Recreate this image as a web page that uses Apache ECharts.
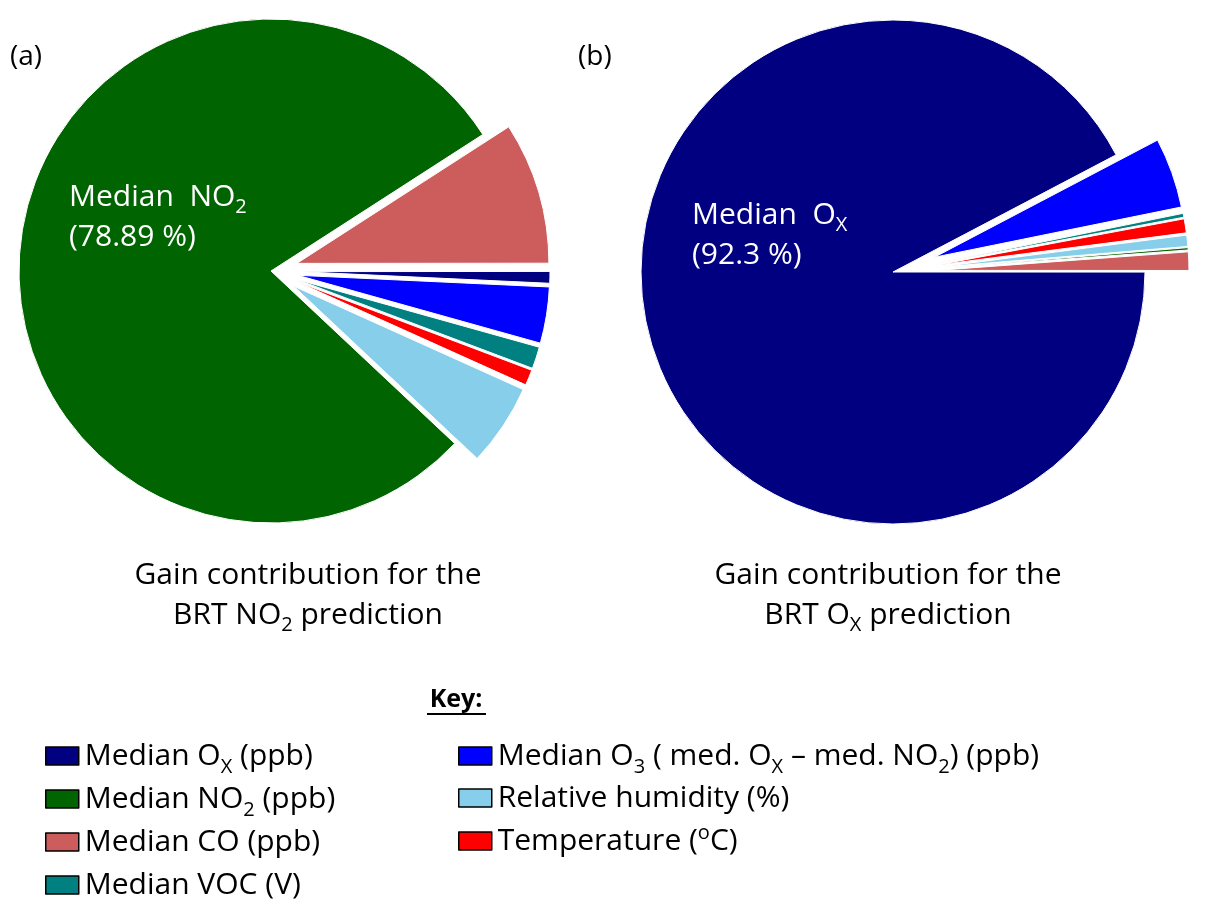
<!DOCTYPE html>
<html>
<head>
<meta charset="utf-8">
<script src="https://cdn.jsdelivr.net/npm/echarts@6/dist/echarts.min.js"></script>
<style>
html,body{margin:0;padding:0;background:#fff;}
#main{width:1207px;height:912px;}
</style>
</head>
<body>
<div id="main"></div>
<script>
// ---- data ----
var categories = ['Median Ox (ppb)', 'Median NO2 (ppb)', 'Median CO (ppb)', 'Median VOC (V)',
                  'Median O3 ( med. Ox – med. NO2) (ppb)', 'Relative humidity (%)', 'Temperature (oC)'];
var colors = ['#000080', '#006400', '#CD5C5C', '#008080', '#0000FF', '#87CEEB', '#FF0000'];
var gainNO2 = [0.75, 78.89, 9.1, 1.4, 3.6, 5.26, 1.0];
var gainOx  = [92.3, 0.15, 1.18, 0.25, 4.5, 0.72, 0.9];
var orderA = [2, 0, 4, 3, 6, 5, 1];
var orderB = [4, 3, 6, 5, 1, 2, 0];
var legendRich = [
  '{n|Median O}{s|X}{n| (ppb)}',
  '{n|Median NO}{s|2}{n| (ppb)}',
  '{n|Median CO (ppb)}',
  '{n|Median VOC (V)}',
  '{n|Median O}{s|3}{n| ( med. O}{s|X}{n| – med. NO}{s|2}{n|) (ppb)}',
  '{n|Relative humidity (%)}',
  '{n|Temperature (}{p|o}{n|C)}'
];

var FONT = '"Open Sans", sans-serif';

function richSet(color, fs, lh, key) {
  key = key || 'color';
  var sfs = Math.round(fs * 0.66);
  var r = {
    n: { fontSize: fs, fontFamily: FONT, lineHeight: lh },
    s: { fontSize: sfs, fontFamily: FONT, lineHeight: 20, padding: [lh - 20, 0, 0, 0] },
    p: { fontSize: sfs, fontFamily: FONT, lineHeight: 20, padding: [0, 0, lh - 26, 0] }
  };
  r.n[key] = color; r.s[key] = color; r.p[key] = color;
  return r;
}

function buildData(values, order, bigIdx) {
  return order.map(function (i) {
    return {
      name: categories[i],
      value: values[i],
      selected: i !== bigIdx,
      itemStyle: { color: colors[i] }
    };
  });
}

var legendRichStyle = richSet('#000', 30, 42);
function legendItem(idx, left, top) {
  return {
    orient: 'vertical',
    left: left,
    top: top,
    icon: 'rect',
    itemWidth: 33,
    itemHeight: 18,
    selectedMode: false,
    itemStyle: { borderColor: '#000', borderWidth: 1.5 },
    data: [categories[idx]],
    formatter: function () { return legendRich[idx]; },
    textStyle: { rich: legendRichStyle, fontSize: 30, fontFamily: FONT, padding: [0, 0, 0, 1] }
  };
}

var chart = echarts.init(document.getElementById('main'));
var option = {
  animation: false,
  backgroundColor: '#fff',
  legend: [
    legendItem(0, 40, 730),
    legendItem(1, 40, 773),
    legendItem(2, 40, 822),
    legendItem(3, 40, 865),
    legendItem(4, 453, 730),
    legendItem(5, 453, 778),
    legendItem(6, 453, 818)
  ],
  series: [
    {
      type: 'pie',
      center: [271, 271],
      radius: [0, 252],
      startAngle: 32.8,
      clockwise: true,
      selectedMode: 'multiple',
      selectedOffset: 27,
      label: { show: false },
      labelLine: { show: false },
      emphasis: { disabled: true },
      itemStyle: { borderColor: '#fff', borderWidth: 1 },
      data: buildData(gainNO2, orderA, 1)
    },
    {
      type: 'pie',
      center: [893, 272],
      radius: [0, 252],
      startAngle: 27.7,
      clockwise: true,
      selectedMode: 'multiple',
      selectedOffset: 44,
      label: { show: false },
      labelLine: { show: false },
      emphasis: { disabled: true },
      itemStyle: { borderColor: '#fff', borderWidth: 1 },
      data: buildData(gainOx, orderB, 0)
    }
  ],
  graphic: [
    { type: 'text', z: 100, x: 10, y: 57, style: { text: '(a)', font: '28px ' + FONT, fill: '#000', verticalAlign: 'middle' } },
    { type: 'text', z: 100, x: 578, y: 57, style: { text: '(b)', font: '28px ' + FONT, fill: '#000', verticalAlign: 'middle' } },
    { type: 'text', z: 100, x: 69, y: 177, style: { text: '{n|Median  NO}{s|2}\n{n|(78.89 %)}', rich: richSet('#fff', 30, 40, 'fill') } },
    { type: 'text', z: 100, x: 692, y: 195, style: { text: '{n|Median  O}{s|X}\n{n|(92.3 %)}', rich: richSet('#fff', 30, 40, 'fill') } },
    { type: 'text', z: 100, x: 308, y: 555, style: { text: '{n|Gain contribution for the}\n{n|BRT NO}{s|2}{n| prediction}', rich: richSet('#000', 30, 40, 'fill'), align: 'center' } },
    { type: 'text', z: 100, x: 888, y: 555, style: { text: '{n|Gain contribution for the}\n{n|BRT O}{s|X}{n| prediction}', rich: richSet('#000', 30, 40, 'fill'), align: 'center' } },
    { type: 'text', z: 100, x: 456, y: 700, style: { text: 'Key:', font: 'bold 25px ' + FONT, fill: '#000', align: 'center', verticalAlign: 'middle' } },
    { type: 'rect', z: 100, shape: { x: 427, y: 713, width: 59, height: 2 }, style: { fill: '#000' } }
  ]
};
chart.setOption(option);
</script>
</body>
</html>
